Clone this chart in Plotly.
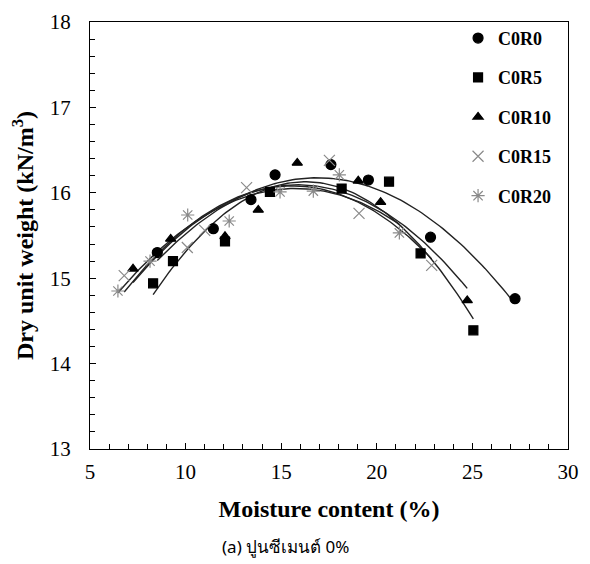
import numpy as np
import plotly.graph_objects as go

series_names = ["C0R0", "C0R5", "C0R10", "C0R15", "C0R20"]

c0r0_x = [8.52, 11.45, 13.42, 14.68, 17.60, 19.56, 22.81, 27.23]
c0r0_y = [15.30, 15.58, 15.92, 16.21, 16.33, 16.15, 15.48, 14.76]

c0r5_x = [8.30, 9.34, 12.06, 14.41, 18.16, 20.64, 22.29, 25.05]
c0r5_y = [14.94, 15.20, 15.43, 16.01, 16.05, 16.13, 15.29, 14.39]

c0r10_x = [7.25, 9.22, 12.06, 13.80, 15.84, 19.03, 20.20, 24.73]
c0r10_y = [15.11, 15.46, 15.49, 15.80, 16.35, 16.14, 15.89, 14.74]

c0r15_x = [6.79, 10.09, 11.00, 13.19, 17.52, 19.07, 22.87]
c0r15_y = [15.03, 15.36, 15.56, 16.06, 16.38, 15.76, 15.15]

c0r20_x = [6.46, 8.14, 10.11, 12.28, 14.94, 16.68, 18.04, 21.18]
c0r20_y = [14.85, 15.20, 15.74, 15.67, 16.01, 16.02, 16.21, 15.53]

xs = [c0r0_x, c0r5_x, c0r10_x, c0r15_x, c0r20_x]
ys = [c0r0_y, c0r5_y, c0r10_y, c0r15_y, c0r20_y]

symbols = ["circle", "square", "triangle-up", "x-thin-open", "asterisk-open"]
colors = ["black", "black", "black", "#8a8a8a", "#8a8a8a"]
sizes = [10, 9, 9, 11, 11]

x_ticks = [5, 10, 15, 20, 25, 30]
y_ticks = [13, 14, 15, 16, 17, 18]

serif = "'Liberation Serif', 'Times New Roman', serif"

fig = go.Figure()

# quadratic trendlines fitted to each series
for name, x, y in zip(series_names, xs, ys):
    c = np.polyfit(x, y, 2)
    xx = np.linspace(min(x), max(x), 120)
    fig.add_trace(go.Scatter(x=xx, y=np.polyval(c, xx), mode="lines",
                             line=dict(color="#222222", width=1.4),
                             showlegend=False, hoverinfo="skip"))

for i, (name, x, y) in enumerate(zip(series_names, xs, ys)):
    fig.add_trace(go.Scatter(
        x=x, y=y, mode="markers", name=name, legendgroup=name,
        marker=dict(symbol=symbols[i], color=colors[i], size=sizes[i],
                    line=dict(color=colors[i], width=1.2))))

axis_common = dict(showline=True, linecolor="black", linewidth=1.3, mirror=True,
                   ticks="inside", ticklen=6, tickcolor="black", tickwidth=1,
                   showgrid=False, zeroline=False, automargin=False,
                   tickfont=dict(family=serif, size=21, color="black"))

fig.update_xaxes(range=[5, 30], tickvals=x_ticks, ticklabelstandoff=4,
                 minor=dict(dtick=1, ticks="inside", ticklen=5, tickcolor="black"),
                 title=dict(text="<b>Moisture content (%)</b>",
                            font=dict(family=serif, size=24, color="black"), standoff=16),
                 **axis_common)
fig.update_yaxes(range=[13, 18], tickvals=y_ticks, ticklabelstandoff=14,
                 minor=dict(dtick=0.2, ticks="inside", ticklen=5, tickcolor="black"),
                 title=dict(text="<b>Dry unit weight (kN/m<sup>3</sup>)</b>",
                            font=dict(family=serif, size=24, color="black"), standoff=12),
                 **axis_common)

fig.update_layout(
    width=590, height=564,
    margin=dict(l=82, r=30, t=14, b=123, autoexpand=False),
    paper_bgcolor="white", plot_bgcolor="white",
    legend=dict(x=0.77, y=1.005, xanchor="left", yanchor="top",
                font=dict(family=serif, size=18, color="black", weight="bold"),
                tracegroupgap=13, traceorder="grouped",
                bgcolor="rgba(0,0,0,0)", itemwidth=30),
    annotations=[dict(text="(a) ปูนซีเมนต์ 0%", xref="paper", yref="paper",
                      x=0.41, y=-0.228, xanchor="center", yanchor="middle",
                      showarrow=False,
                      font=dict(family="Noto Sans, Tahoma, sans-serif", size=17, color="black"))],
)

fig.write_html("out.html")
